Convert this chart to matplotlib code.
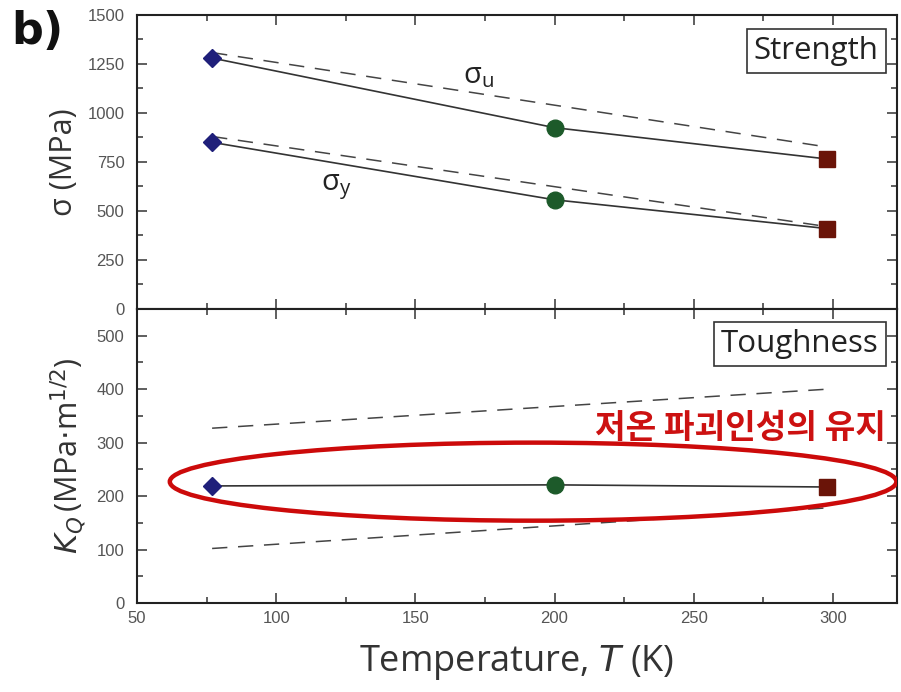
import matplotlib.pyplot as plt
from matplotlib.patches import Ellipse
from matplotlib.ticker import MultipleLocator

# temperature points (K)
temps = [77, 200, 298]

# strength (MPa)
sigma_u = [1280, 925, 765]
sigma_y = [850, 557, 410]
# dashed trend lines for strength
trend_T = [77, 298]
sigma_u_trend = [1308, 826]
sigma_y_trend = [880, 420]

# fracture toughness K_Q (MPa m^1/2)
k_q = [219, 221, 217]
k_upper = [327, 400]
k_lower = [102, 178]

marker_style = [('D', '#1f1f7a', 9), ('o', '#1d5a2a', 12), ('s', '#6a1408', 11)]

tick_font = ['Liberation Sans', 'DejaVu Sans']
label_font = ['Open Sans', 'DejaVu Sans']

fig = plt.figure(figsize=(9.01, 6.92), dpi=100)
ax1 = fig.add_axes([0.152, 0.5535, 0.8435, 0.4249])
ax2 = fig.add_axes([0.152, 0.1286, 0.8435, 0.4249])


def style_axis(ax):
    ax.set_xlim(50, 323)
    ax.xaxis.set_major_locator(MultipleLocator(50))
    ax.xaxis.set_minor_locator(MultipleLocator(25))
    ax.tick_params(which='both', direction='in', top=True, right=True,
                   colors='#333333', labelcolor='#555555', labelsize=12)
    ax.tick_params(which='major', length=7, width=1.1)
    ax.tick_params(which='minor', length=4, width=1.1)
    ax.tick_params(axis='y', pad=9)
    ax.tick_params(axis='x', pad=6)
    for s in ax.spines.values():
        s.set_linewidth(1.5)
        s.set_color('#222222')
    for lab in ax.get_xticklabels() + ax.get_yticklabels():
        lab.set_family(tick_font)


def draw_points(ax, values):
    ax.plot(temps, values, '-', color='#333333', lw=1.2, zorder=2)
    for t, v, (m, c, ms) in zip(temps, values, marker_style):
        ax.plot(t, v, marker=m, color=c, ms=ms, mec=c, zorder=3)


# strength panel
ax1.plot(trend_T, sigma_u_trend, '--', color='#444444', lw=1.1, dashes=(10, 7))
ax1.plot(trend_T, sigma_y_trend, '--', color='#444444', lw=1.1, dashes=(10, 7))
draw_points(ax1, sigma_u)
draw_points(ax1, sigma_y)
ax1.set_ylim(0, 1500)
ax1.yaxis.set_major_locator(MultipleLocator(250))
ax1.yaxis.set_minor_locator(MultipleLocator(125))
style_axis(ax1)
ax1.tick_params(labelbottom=False)
ax1.set_ylabel('σ (MPa)', fontsize=22, family=label_font, color='#333333', labelpad=6)
ax1.text(167, 1150, r'σ$_\mathregular{u}$', fontsize=21, color='#222222',
         family=label_font)
ax1.text(116, 605, r'σ$_\mathregular{y}$', fontsize=21, color='#222222',
         family=label_font)
ax1.text(0.976, 0.878, 'Strength', transform=ax1.transAxes, ha='right', va='center',
         fontsize=22.5, family=label_font, color='#222222',
         bbox=dict(boxstyle='square,pad=0.22', fc='white', ec='#333333', lw=1.2))

# toughness panel
ax2.plot(trend_T, k_upper, '--', color='#444444', lw=1.1, dashes=(10, 7))
ax2.plot(trend_T, k_lower, '--', color='#444444', lw=1.1, dashes=(10, 7))
draw_points(ax2, k_q)
ax2.set_ylim(0, 550)
ax2.yaxis.set_major_locator(MultipleLocator(100))
ax2.yaxis.set_minor_locator(MultipleLocator(50))
style_axis(ax2)
ax2.set_ylabel(r'$K_Q\,$(MPa$\cdot$m$^{1/2}$)', fontsize=22, family=label_font,
               color='#333333', labelpad=6)
ax2.set_xlabel(r'Temperature, $T$ (K)', fontsize=26, family=label_font,
               color='#333333', labelpad=12)
ax2.text(0.976, 0.881, 'Toughness', transform=ax2.transAxes, ha='right', va='center',
         fontsize=22.5, family=label_font, color='#222222',
         bbox=dict(boxstyle='square,pad=0.22', fc='white', ec='#333333', lw=1.2))
ax2.add_patch(Ellipse((192.3, 227), 261, 146, fill=False, ec='#cc0a0a', lw=3.2, zorder=4))
ax2.text(319, 327, '저온 파괴인성의 유지', ha='right', va='center', fontsize=24,
         fontweight='bold', color='#cc1111', family=['Noto Sans CJK KR', 'DejaVu Sans'])

fig.text(0.012, 0.955, 'b)', fontsize=32, fontweight='bold', color='#111111',
         family=['DejaVu Sans'], va='center')

fig.savefig('out.png', dpi=100)
